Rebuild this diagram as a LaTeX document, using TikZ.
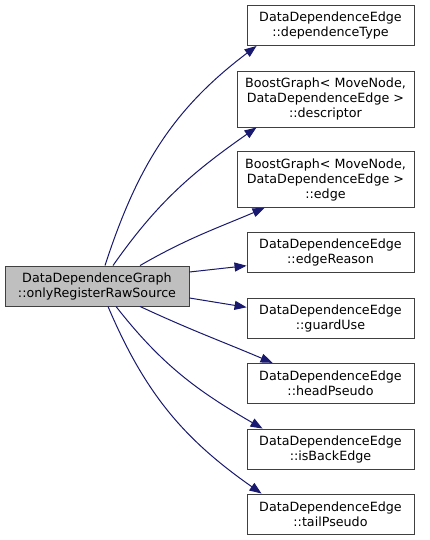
\documentclass[tikz,border=0pt]{standalone}
\usepackage{fontspec}
\setmainfont{DejaVu Sans}
\usetikzlibrary{arrows.meta}
\definecolor{callblue}{HTML}{191970}
\definecolor{boxgray}{HTML}{BFBFBF}
\definecolor{boxline}{HTML}{404040}

\begin{document}
\begin{tikzpicture}[x=1pt, y=-1pt,
    every node/.style={draw=boxline, line width=0.9pt, fill=white, align=center, inner sep=0pt,
        font=\fontsize{12.7}{15}\selectfont},
    call/.style={draw=callblue, line width=1pt, -{Triangle[length=12pt, width=9pt, fill=callblue]}}]
    \useasboundingbox[fill=white] (0,0) rectangle (429,540);
    % Caller and callees
    \node[fill=boxgray, minimum width=184pt, minimum height=40pt] (C_SRC) at (97,286) {DataDependenceGraph\\::onlyRegisterRawSource};
    \node[minimum width=167pt, minimum height=40pt] (C_DT)  at (330.5,25.5)  {DataDependenceEdge\\::dependenceType};
    \node[minimum width=177pt, minimum height=56pt] (C_DSC) at (325.5,99)    {BoostGraph< MoveNode,\\DataDependenceEdge >\\::descriptor};
    \node[minimum width=177pt, minimum height=56pt] (C_EDG) at (325.5,179.5) {BoostGraph< MoveNode,\\DataDependenceEdge >\\::edge};
    \node[minimum width=167pt, minimum height=40pt] (C_ER)  at (330.5,252.7) {DataDependenceEdge\\::edgeReason};
    \node[minimum width=167pt, minimum height=40pt] (C_GU)  at (330.5,318.3) {DataDependenceEdge\\::guardUse};
    \node[minimum width=167pt, minimum height=40pt] (C_HP)  at (330.5,383.3) {DataDependenceEdge\\::headPseudo};
    \node[minimum width=167pt, minimum height=40pt] (C_IBE) at (330.5,449)   {DataDependenceEdge\\::isBackEdge};
    \node[minimum width=167pt, minimum height=40pt] (C_TP)  at (330.5,514)   {DataDependenceEdge\\::tailPseudo};

    % Calls
    \draw[call] ([xshift=8pt]C_SRC.north) to[out=72, in=217] ([xshift=10pt]C_DT.south west);
    \draw[call] ([xshift=16pt]C_SRC.north) to[out=55, in=215] ([xshift=20pt]C_DSC.south west);
    \draw[call] ([xshift=43pt]C_SRC.north) to[out=30, in=203] ([xshift=28pt]C_EDG.south west);
    \draw[call] ([yshift=14pt]C_SRC.east) -- ([yshift=-13pt]C_ER.west);
    \draw[call] ([yshift=-12pt]C_SRC.east) -- ([yshift=11pt]C_GU.west);
    \draw[call] ([xshift=43pt]C_SRC.south) to[out=-25, in=157] ([xshift=26pt]C_HP.north west);
    \draw[call] ([xshift=19pt]C_SRC.south) to[out=-52, in=150] ([xshift=16pt]C_IBE.north west);
    \draw[call] ([xshift=11pt]C_SRC.south) to[out=-67, in=145] ([xshift=15pt]C_TP.north west);
\end{tikzpicture}
\end{document}
